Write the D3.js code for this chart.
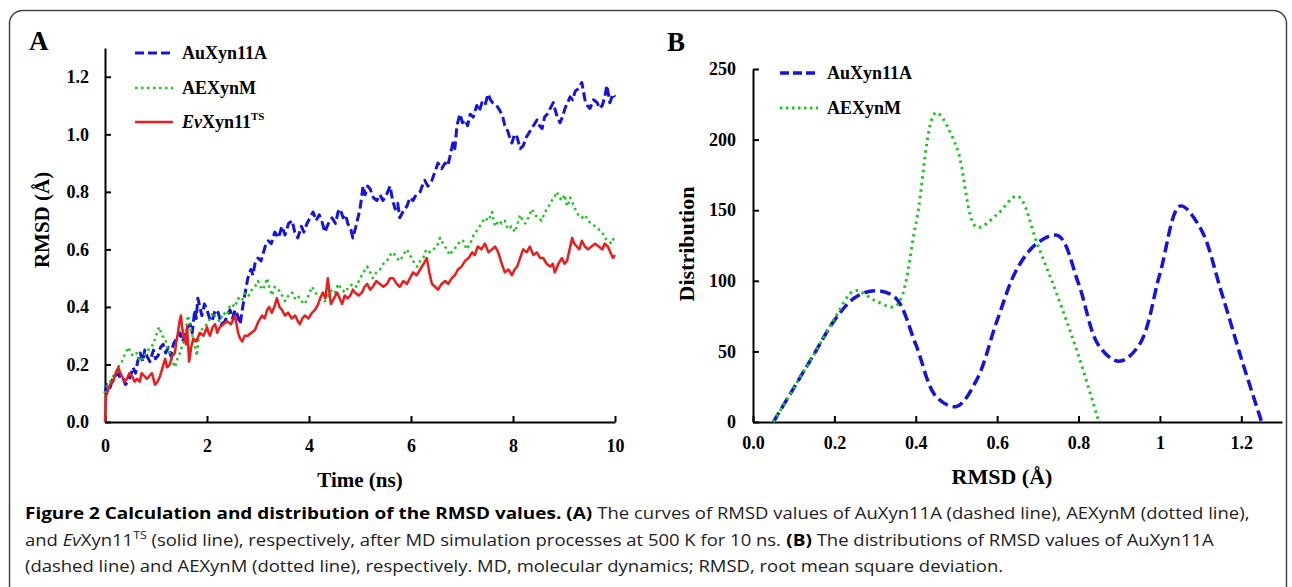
<!DOCTYPE html>
<html>
<head>
<meta charset="utf-8">
<script src="https://cdn.jsdelivr.net/npm/d3@7"></script>
<style>
  body { margin: 0; background: #fff; }
  svg { display: block; }
  .tick text { font-family: "Liberation Serif", "Times New Roman", serif; font-weight: bold; font-size: 18px; }
  .cap { white-space: pre; }
</style>
</head>
<body>
<svg id="fig" width="1292" height="587"></svg>
<script>
// Panel A: RMSD over time [time (ns), RMSD (Å)]
const auRmsd = [[0,0.10],[0.02,0.12],[0.04,0.13],[0.1,0.12],[0.15,0.15],[0.2,0.16],[0.26,0.17],[0.3,0.15],[0.36,0.15],[0.4,0.13],[0.45,0.14],[0.5,0.16],[0.55,0.19],[0.6,0.17],[0.64,0.21],[0.69,0.24],[0.74,0.21],[0.78,0.25],[0.82,0.23],[0.88,0.21],[0.95,0.25],[0.99,0.22],[1.04,0.23],[1.09,0.26],[1.14,0.27],[1.19,0.24],[1.24,0.26],[1.29,0.23],[1.34,0.27],[1.4,0.29],[1.47,0.31],[1.52,0.28],[1.57,0.30],[1.62,0.33],[1.67,0.34],[1.71,0.31],[1.76,0.39],[1.79,0.36],[1.82,0.43],[1.86,0.40],[1.9,0.37],[1.95,0.41],[2.0,0.39],[2.05,0.36],[2.1,0.35],[2.16,0.39],[2.22,0.38],[2.28,0.34],[2.35,0.35],[2.4,0.37],[2.45,0.39],[2.5,0.36],[2.55,0.39],[2.6,0.37],[2.65,0.34],[2.7,0.40],[2.75,0.45],[2.8,0.50],[2.86,0.53],[2.9,0.51],[2.94,0.55],[3.0,0.57],[3.06,0.56],[3.14,0.61],[3.2,0.63],[3.26,0.62],[3.33,0.66],[3.4,0.64],[3.47,0.68],[3.53,0.65],[3.6,0.69],[3.67,0.70],[3.72,0.66],[3.78,0.64],[3.85,0.68],[3.9,0.66],[3.96,0.69],[4.02,0.71],[4.08,0.73],[4.14,0.70],[4.2,0.72],[4.25,0.70],[4.31,0.66],[4.38,0.69],[4.45,0.71],[4.52,0.69],[4.57,0.73],[4.61,0.74],[4.67,0.71],[4.72,0.72],[4.76,0.69],[4.82,0.67],[4.86,0.64],[4.92,0.68],[4.96,0.71],[5.0,0.74],[5.06,0.82],[5.1,0.79],[5.15,0.82],[5.2,0.81],[5.26,0.78],[5.33,0.77],[5.39,0.79],[5.45,0.77],[5.52,0.79],[5.59,0.82],[5.64,0.77],[5.69,0.74],[5.74,0.76],[5.78,0.71],[5.84,0.73],[5.92,0.75],[5.98,0.78],[6.04,0.77],[6.1,0.79],[6.18,0.80],[6.22,0.82],[6.27,0.84],[6.33,0.82],[6.41,0.84],[6.47,0.87],[6.53,0.90],[6.6,0.88],[6.67,0.90],[6.72,0.89],[6.76,0.92],[6.82,0.97],[6.86,0.95],[6.9,1.03],[6.96,1.07],[7.01,1.04],[7.06,1.05],[7.11,1.03],[7.16,1.07],[7.22,1.06],[7.29,1.10],[7.34,1.08],[7.39,1.11],[7.45,1.10],[7.51,1.14],[7.56,1.12],[7.6,1.11],[7.68,1.10],[7.75,1.08],[7.8,1.06],[7.84,1.03],[7.9,1.01],[7.95,0.98],[7.98,0.97],[8.03,1.00],[8.08,0.99],[8.14,0.95],[8.2,0.96],[8.26,0.99],[8.33,1.01],[8.4,1.03],[8.47,1.05],[8.52,1.03],[8.57,1.02],[8.62,1.06],[8.67,1.07],[8.73,1.09],[8.79,1.11],[8.85,1.07],[8.92,1.04],[8.97,1.06],[9.02,1.09],[9.07,1.11],[9.12,1.13],[9.17,1.12],[9.22,1.15],[9.29,1.16],[9.35,1.18],[9.38,1.15],[9.41,1.12],[9.46,1.10],[9.51,1.09],[9.58,1.12],[9.65,1.11],[9.7,1.09],[9.75,1.10],[9.8,1.13],[9.84,1.17],[9.87,1.14],[9.9,1.11],[9.96,1.14],[10,1.13]];
const aeRmsd = [[0,0.10],[0.05,0.13],[0.1,0.14],[0.16,0.16],[0.23,0.17],[0.28,0.20],[0.33,0.21],[0.4,0.24],[0.46,0.26],[0.5,0.24],[0.55,0.23],[0.62,0.24],[0.69,0.21],[0.75,0.23],[0.82,0.24],[0.88,0.26],[0.95,0.27],[1.0,0.30],[1.06,0.33],[1.12,0.30],[1.18,0.29],[1.22,0.26],[1.27,0.24],[1.32,0.21],[1.37,0.19],[1.42,0.22],[1.47,0.24],[1.52,0.27],[1.57,0.29],[1.6,0.34],[1.63,0.37],[1.68,0.32],[1.73,0.29],[1.77,0.26],[1.8,0.23],[1.83,0.28],[1.86,0.31],[1.93,0.33],[2.0,0.34],[2.06,0.36],[2.12,0.38],[2.18,0.36],[2.25,0.35],[2.32,0.38],[2.39,0.37],[2.44,0.40],[2.49,0.41],[2.55,0.40],[2.61,0.43],[2.68,0.42],[2.75,0.45],[2.82,0.44],[2.88,0.46],[2.94,0.47],[3.0,0.49],[3.05,0.47],[3.1,0.46],[3.14,0.48],[3.18,0.50],[3.22,0.47],[3.27,0.44],[3.33,0.47],[3.4,0.46],[3.47,0.44],[3.53,0.42],[3.6,0.44],[3.67,0.45],[3.72,0.43],[3.78,0.44],[3.85,0.42],[3.92,0.41],[3.99,0.44],[4.06,0.47],[4.12,0.45],[4.18,0.44],[4.25,0.43],[4.31,0.42],[4.38,0.44],[4.45,0.46],[4.51,0.45],[4.57,0.48],[4.64,0.46],[4.71,0.45],[4.78,0.47],[4.86,0.48],[4.93,0.47],[5.0,0.50],[5.07,0.52],[5.14,0.54],[5.2,0.52],[5.25,0.50],[5.32,0.52],[5.39,0.53],[5.46,0.55],[5.53,0.56],[5.59,0.58],[5.65,0.59],[5.72,0.57],[5.78,0.56],[5.85,0.58],[5.92,0.60],[5.98,0.58],[6.04,0.56],[6.08,0.55],[6.12,0.54],[6.18,0.56],[6.24,0.57],[6.3,0.60],[6.37,0.59],[6.44,0.60],[6.51,0.61],[6.57,0.64],[6.63,0.62],[6.7,0.60],[6.76,0.58],[6.83,0.60],[6.9,0.61],[6.96,0.63],[7.02,0.63],[7.09,0.60],[7.16,0.62],[7.23,0.65],[7.31,0.67],[7.38,0.69],[7.45,0.71],[7.52,0.70],[7.59,0.73],[7.62,0.70],[7.65,0.68],[7.72,0.70],[7.78,0.69],[7.84,0.70],[7.9,0.67],[7.97,0.68],[8.04,0.66],[8.09,0.69],[8.14,0.72],[8.19,0.70],[8.24,0.69],[8.3,0.71],[8.37,0.74],[8.43,0.72],[8.49,0.71],[8.56,0.70],[8.63,0.73],[8.7,0.75],[8.76,0.77],[8.81,0.78],[8.86,0.80],[8.91,0.78],[8.96,0.77],[9.01,0.79],[9.06,0.75],[9.09,0.76],[9.12,0.78],[9.17,0.76],[9.22,0.74],[9.28,0.72],[9.35,0.71],[9.41,0.72],[9.47,0.70],[9.54,0.69],[9.61,0.68],[9.68,0.67],[9.75,0.66],[9.8,0.64],[9.86,0.63],[9.93,0.62],[10,0.65]];
const evRmsd = [[0,0],[0.02,0.09],[0.06,0.11],[0.1,0.13],[0.16,0.14],[0.21,0.17],[0.26,0.19],[0.3,0.17],[0.33,0.16],[0.38,0.14],[0.43,0.15],[0.48,0.17],[0.53,0.16],[0.58,0.14],[0.63,0.15],[0.68,0.14],[0.72,0.17],[0.77,0.16],[0.82,0.15],[0.87,0.16],[0.92,0.17],[0.95,0.15],[0.98,0.13],[1.03,0.14],[1.08,0.16],[1.13,0.19],[1.18,0.22],[1.22,0.19],[1.27,0.20],[1.32,0.23],[1.37,0.24],[1.4,0.28],[1.43,0.31],[1.46,0.35],[1.49,0.37],[1.51,0.33],[1.53,0.31],[1.56,0.29],[1.59,0.27],[1.61,0.33],[1.63,0.27],[1.65,0.21],[1.69,0.26],[1.73,0.29],[1.79,0.28],[1.86,0.31],[1.93,0.30],[2.0,0.33],[2.03,0.31],[2.06,0.30],[2.11,0.33],[2.16,0.34],[2.2,0.31],[2.25,0.33],[2.32,0.34],[2.39,0.35],[2.47,0.34],[2.55,0.37],[2.58,0.34],[2.61,0.31],[2.65,0.29],[2.69,0.28],[2.74,0.30],[2.8,0.30],[2.87,0.31],[2.94,0.32],[3.01,0.35],[3.08,0.37],[3.13,0.36],[3.18,0.39],[3.22,0.40],[3.27,0.38],[3.32,0.40],[3.37,0.43],[3.42,0.40],[3.47,0.39],[3.53,0.37],[3.59,0.38],[3.66,0.36],[3.73,0.37],[3.78,0.35],[3.82,0.34],[3.87,0.36],[3.92,0.37],[3.99,0.36],[4.06,0.38],[4.12,0.39],[4.18,0.41],[4.22,0.43],[4.27,0.45],[4.32,0.43],[4.37,0.50],[4.4,0.45],[4.43,0.41],[4.49,0.43],[4.55,0.45],[4.6,0.43],[4.65,0.41],[4.7,0.44],[4.76,0.43],[4.81,0.44],[4.86,0.46],[4.9,0.45],[4.97,0.44],[5.04,0.45],[5.09,0.47],[5.14,0.48],[5.2,0.46],[5.25,0.47],[5.32,0.49],[5.39,0.48],[5.46,0.47],[5.53,0.48],[5.59,0.50],[5.65,0.50],[5.72,0.48],[5.78,0.47],[5.85,0.49],[5.92,0.48],[5.98,0.50],[6.04,0.52],[6.11,0.51],[6.18,0.53],[6.25,0.55],[6.31,0.57],[6.36,0.52],[6.41,0.48],[6.47,0.47],[6.53,0.46],[6.6,0.48],[6.67,0.49],[6.73,0.48],[6.8,0.50],[6.86,0.51],[6.92,0.53],[6.99,0.54],[7.06,0.56],[7.13,0.57],[7.2,0.59],[7.25,0.58],[7.31,0.61],[7.38,0.60],[7.45,0.62],[7.52,0.59],[7.59,0.60],[7.65,0.61],[7.71,0.59],[7.78,0.55],[7.84,0.52],[7.91,0.53],[7.98,0.51],[8.03,0.53],[8.08,0.54],[8.14,0.57],[8.2,0.60],[8.27,0.59],[8.33,0.61],[8.4,0.58],[8.47,0.59],[8.53,0.57],[8.59,0.57],[8.66,0.55],[8.73,0.54],[8.78,0.55],[8.82,0.52],[8.89,0.55],[8.96,0.57],[9.01,0.55],[9.06,0.56],[9.11,0.60],[9.16,0.64],[9.2,0.62],[9.25,0.61],[9.3,0.60],[9.35,0.63],[9.41,0.61],[9.47,0.60],[9.54,0.61],[9.61,0.62],[9.68,0.61],[9.75,0.60],[9.8,0.62],[9.86,0.61],[9.91,0.59],[9.96,0.57],[10,0.58]];

// Panel B: RMSD distributions [RMSD (Å), count]
const auDist = [[0.05,0],[0.1,24],[0.15,48],[0.2,72],[0.25,88],[0.3,93],[0.35,88],[0.4,55],[0.45,18],[0.5,11],[0.55,30],[0.6,72],[0.65,109],[0.7,127],[0.75,132],[0.8,98],[0.85,54],[0.9,43],[0.95,55],[1.0,105],[1.05,153],[1.1,137],[1.15,93],[1.2,45],[1.25,0]];
const aeDist = [[0.05,0],[0.1,24],[0.15,48],[0.2,73],[0.25,93],[0.3,86],[0.35,82],[0.4,140],[0.45,219],[0.5,195],[0.55,138],[0.6,147],[0.65,160],[0.7,125],[0.75,88],[0.8,47],[0.85,0]];

const timeTicks = [0, 2, 4, 6, 8, 10];
const rmsdTicks = [0, 0.2, 0.4, 0.6, 0.8, 1.0, 1.2];
const distTicks = [0, 50, 100, 150, 200, 250];
const rmsdBinTicks = [0, 0.2, 0.4, 0.6, 0.8, 1.0, 1.2];
const rmsdBinLabels = ["0.0", "0.2", "0.4", "0.6", "0.8", "1", "1.2"];

const BLUE = "#1414dc", GREEN = "#22c422", RED = "#ec1c1c";
const serif = '"Liberation Serif", "Times New Roman", serif';

const svg = d3.select("#fig");

// outer frame
svg.append("rect")
  .attr("x", 9.5).attr("y", 10.5)
  .attr("width", 1277).attr("height", 640)
  .attr("rx", 13)
  .attr("fill", "none")
  .attr("stroke", "#444")
  .attr("stroke-width", 1.5);

function styleAxis(g) {
  g.selectAll(".domain").attr("stroke", "#000").attr("stroke-width", 2);
  g.selectAll(".tick line").attr("stroke", "#000").attr("stroke-width", 2);
  g.selectAll(".tick text").attr("fill", "#000");
}

function legendRow(g, x, y, color, dash, width) {
  g.append("line")
    .attr("x1", x).attr("x2", x + 38)
    .attr("y1", y).attr("y2", y)
    .attr("stroke", color)
    .attr("stroke-width", width)
    .attr("stroke-dasharray", dash);
  return g.append("text")
    .attr("x", x + 47).attr("y", y + 6)
    .attr("font-family", serif).attr("font-weight", "bold").attr("font-size", 18);
}

// ---------- Panel A ----------
const xA = d3.scaleLinear().domain([0, 10]).range([105, 615]);
const yA = d3.scaleLinear().domain([0, 1.3]).range([422, 48]);

const gA = svg.append("g");

gA.append("g")
  .attr("transform", `translate(0,${yA(0)})`)
  .call(d3.axisBottom(xA).tickValues(timeTicks).tickSizeInner(-6).tickSizeOuter(0).tickPadding(17).tickFormat(d3.format("d")))
  .call(styleAxis);

gA.append("g")
  .attr("transform", `translate(${xA(0)},0)`)
  .call(d3.axisLeft(yA).tickValues(rmsdTicks).tickSizeInner(-6).tickSizeOuter(0).tickPadding(16).tickFormat(d3.format(".1f")))
  .call(styleAxis);

const lineA = d3.line().x(d => xA(d[0])).y(d => yA(d[1]));

gA.append("path").datum(auRmsd)
  .attr("d", lineA).attr("fill", "none")
  .attr("stroke", BLUE).attr("stroke-width", 3)
  .attr("stroke-dasharray", "9 4").attr("stroke-linejoin", "round");
gA.append("path").datum(aeRmsd)
  .attr("d", lineA).attr("fill", "none")
  .attr("stroke", GREEN).attr("stroke-width", 2.5)
  .attr("stroke-dasharray", "2.5 3.5").attr("stroke-linejoin", "round");
gA.append("path").datum(evRmsd)
  .attr("d", lineA).attr("fill", "none")
  .attr("stroke", RED).attr("stroke-width", 2.5).attr("stroke-linejoin", "round");

gA.append("text").attr("x", 29).attr("y", 50)
  .attr("font-family", serif).attr("font-weight", "bold").attr("font-size", 27).text("A");

gA.append("text")
  .attr("transform", "translate(49,220) rotate(-90)")
  .attr("text-anchor", "middle")
  .attr("font-family", serif).attr("font-weight", "bold").attr("font-size", 21)
  .text("RMSD (Å)");

gA.append("text").attr("x", 360).attr("y", 487)
  .attr("text-anchor", "middle")
  .attr("font-family", serif).attr("font-weight", "bold").attr("font-size", 21)
  .text("Time (ns)");

const legA = gA.append("g");
legendRow(legA, 135, 53, BLUE, "9 4", 3).text("AuXyn11A");
legendRow(legA, 135, 88, GREEN, "2.5 3.5", 2.5).text("AEXynM");
const evLabel = legendRow(legA, 135, 122, RED, null, 2.5);
evLabel.append("tspan").attr("font-style", "italic").text("Ev");
evLabel.append("tspan").text("Xyn11");
evLabel.append("tspan").attr("font-size", 11).attr("dy", -8).text("TS");

// ---------- Panel B ----------
const xB = d3.scaleLinear().domain([0, 1.3]).range([753, 1282]);
const yB = d3.scaleLinear().domain([0, 250]).range([422, 69]);

const gB = svg.append("g");

gB.append("g")
  .attr("transform", `translate(0,${yB(0)})`)
  .call(d3.axisBottom(xB).tickValues(rmsdBinTicks).tickSizeInner(-6).tickSizeOuter(0).tickPadding(14)
    .tickFormat((d, i) => rmsdBinLabels[i]))
  .call(styleAxis);

gB.append("g")
  .attr("transform", `translate(${xB(0)},0)`)
  .call(d3.axisLeft(yB).tickValues(distTicks).tickSizeInner(-6).tickSizeOuter(0).tickPadding(17))
  .call(styleAxis);

const lineB = d3.line().x(d => xB(d[0])).y(d => yB(d[1])).curve(d3.curveCatmullRom.alpha(0.5));

gB.append("path").datum(auDist)
  .attr("d", lineB).attr("fill", "none")
  .attr("stroke", BLUE).attr("stroke-width", 3.5)
  .attr("stroke-dasharray", "11 5");
gB.append("path").datum(aeDist)
  .attr("d", lineB).attr("fill", "none")
  .attr("stroke", GREEN).attr("stroke-width", 3)
  .attr("stroke-dasharray", "2.5 4").attr("stroke-linecap", "butt");

gB.append("text").attr("x", 667).attr("y", 51)
  .attr("font-family", serif).attr("font-weight", "bold").attr("font-size", 27).text("B");

gB.append("text")
  .attr("transform", "translate(694,244) rotate(-90)")
  .attr("text-anchor", "middle")
  .attr("font-family", serif).attr("font-weight", "bold").attr("font-size", 22)
  .text("Distribution");

gB.append("text").attr("x", 1002).attr("y", 484)
  .attr("text-anchor", "middle")
  .attr("font-family", serif).attr("font-weight", "bold").attr("font-size", 22)
  .text("RMSD (Å)");

const legB = gB.append("g");
legendRow(legB, 780, 73, BLUE, "9 4", 3.5).text("AuXyn11A");
legendRow(legB, 780, 108, GREEN, "2.5 3.5", 3).text("AEXynM");

// ---------- Caption ----------
// the journal uses a condensed face; each piece is squeezed horizontally,
// regular pieces by one factor and bold pieces by another
const captionLines = [
  { y: 519, width: 1225, parts: [
    ["Figure 2 Calculation and distribution of the RMSD values. (A)", "b"],
    [" The curves of RMSD values of AuXyn11A (dashed line), AEXynM (dotted line),", ""] ] },
  { y: 546, width: 1197, parts: [
    ["and ", ""], ["Ev", "i"], ["Xyn11", ""], ["TS", "sup"],
    [" (solid line), respectively, after MD simulation processes at 500 K for 10 ns. ", ""],
    ["(B)", "b"], [" The distributions of RMSD values of AuXyn11A", ""] ] },
  { y: 572, width: 979, parts: [
    ["(dashed line) and AEXynM (dotted line), respectively. MD, molecular dynamics; RMSD, root mean square deviation.", ""] ] }
];

const cap = svg.append("g");
captionLines.forEach(line => {
  line.nodes = line.parts.map(([s, style]) => {
    const t = cap.append("text")
      .attr("class", "cap")
      .attr("font-family", '"Open Sans", "Noto Sans", sans-serif')
      .attr("font-size", style === "sup" ? 11 : 16.5)
      .attr("fill", style === "b" ? "#000" : "#222")
      .text(s);
    if (style === "b") t.attr("font-weight", "bold");
    if (style === "i") t.attr("font-style", "italic");
    return { t, style, w: t.node().getComputedTextLength() };
  });
});

const sumW = (line, bold) => d3.sum(line.nodes.filter(n => (n.style === "b") === bold), n => n.w);
const sReg = captionLines[2].width / sumW(captionLines[2], false);
const sBold = (captionLines[0].width - sReg * sumW(captionLines[0], false)) / sumW(captionLines[0], true);

captionLines.forEach(line => {
  let x = 25;
  line.nodes.forEach(n => {
    const s = n.style === "b" ? sBold : sReg;
    const dy = n.style === "sup" ? -7 : 0;
    n.t.attr("transform", `translate(${x},${line.y + dy}) scale(${s},1)`);
    x += n.w * s;
  });
});
</script>
</body>
</html>
